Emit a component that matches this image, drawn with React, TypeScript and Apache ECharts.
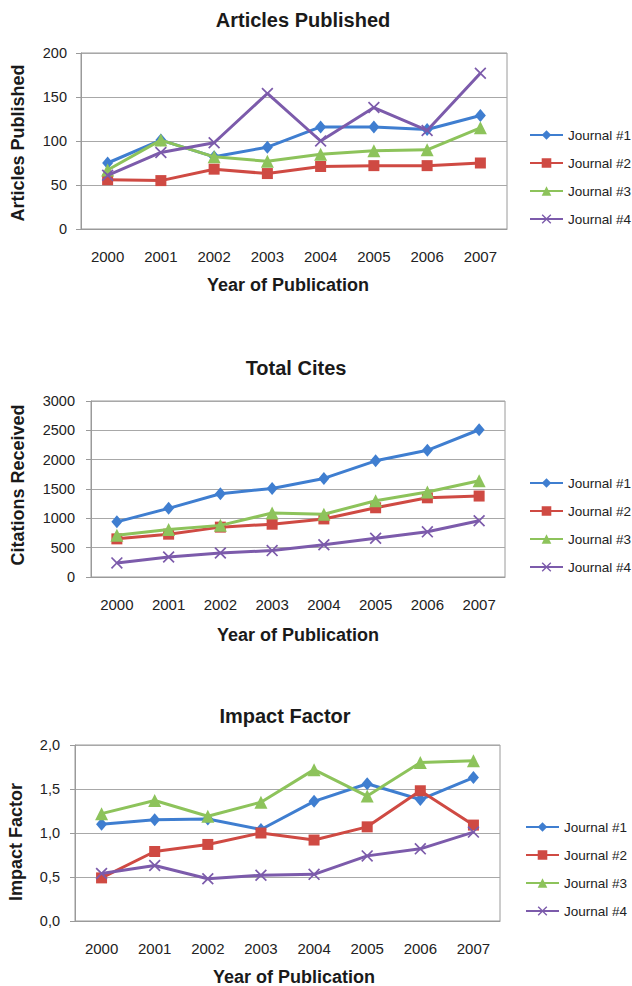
import React, { useEffect, useRef } from "react";
import * as echarts from "echarts";

const years = ["2000", "2001", "2002", "2003", "2004", "2005", "2006", "2007"];
const journals = ["Journal #1", "Journal #2", "Journal #3", "Journal #4"];

const articlesJ1 = [75, 101, 82, 93, 116, 116, 113, 129];
const articlesJ2 = [56, 55, 68, 63, 71, 72, 72, 75];
const articlesJ3 = [67, 101, 82, 77, 85, 89, 90, 115];
const articlesJ4 = [61, 87, 98, 154, 100, 138, 112, 177];

const citesJ1 = [940, 1170, 1420, 1510, 1680, 1980, 2160, 2510];
const citesJ2 = [650, 730, 850, 900, 990, 1180, 1350, 1380];
const citesJ3 = [710, 810, 880, 1090, 1070, 1300, 1450, 1640];
const citesJ4 = [240, 340, 410, 450, 550, 660, 770, 960];

const impactJ1 = [1.1, 1.15, 1.16, 1.04, 1.36, 1.56, 1.38, 1.63];
const impactJ2 = [0.49, 0.79, 0.87, 1.0, 0.92, 1.07, 1.48, 1.09];
const impactJ3 = [1.22, 1.37, 1.19, 1.35, 1.72, 1.42, 1.8, 1.82];
const impactJ4 = [0.54, 0.63, 0.48, 0.52, 0.53, 0.74, 0.82, 1.01];

const chartTitles = ["Articles Published", "Total Cites", "Impact Factor"];
const yNames = ["Articles Published", "Citations Received", "Impact Factor"];
const xName = "Year of Publication";

const FONT = "'Liberation Sans', Arial, Helvetica, sans-serif";
const colors = ["#3f7ed0", "#cf4a43", "#8dc35b", "#7c5bab"];
const crossPath =
  "path://M1,0 L5,4 L9,0 L10,1 L6,5 L10,9 L9,10 L5,6 L1,10 L0,9 L4,5 L0,1 Z";
const symbols = ["diamond", "rect", "triangle", crossPath];
const symbolSizes: any[] = [[11, 13], 11, 13, 12];

const layouts = [
  { left: 81, top: 53, width: 426, height: 176, labelMargin: 14, title: [303, 20], yName: [18, 143], xName: [288, 285], legendLeft: 529, legendTop: 128 },
  { left: 91, top: 401, width: 414, height: 176, labelMargin: 16, title: [296, 368], yName: [18, 485], xName: [298, 635], legendLeft: 529, legendTop: 476 },
  { left: 75, top: 745, width: 425, height: 176, labelMargin: 15, title: [285, 716], yName: [16, 842], xName: [294, 977], legendLeft: 525, legendTop: 820 },
];

const axisScales = [
  { min: 0, max: 200, interval: 50, fmt: (v: number) => String(v) },
  { min: 0, max: 3000, interval: 500, fmt: (v: number) => String(v) },
  { min: 0, max: 2, interval: 0.5, fmt: (v: number) => v.toFixed(1).replace(".", ",") },
];

const datasets = [
  [articlesJ1, articlesJ2, articlesJ3, articlesJ4],
  [citesJ1, citesJ2, citesJ3, citesJ4],
  [impactJ1, impactJ2, impactJ3, impactJ4],
];

export default function App() {
  const ref = useRef<HTMLDivElement>(null);
  useEffect(() => {
    if (!ref.current) return;
    const chart = echarts.init(ref.current, undefined, { renderer: "svg" });

    const grids = layouts.map((l) => ({
      left: l.left,
      top: l.top,
      width: l.width,
      height: l.height,
      show: true,
      borderColor: "#9a9a9a",
      borderWidth: 1,
      backgroundColor: "transparent",
      containLabel: false,
    }));

    const xAxes = layouts.map((_, i) => ({
      type: "category",
      gridIndex: i,
      data: years,
      boundaryGap: true,
      axisLine: { show: true, lineStyle: { color: "#9a9a9a", width: 1 } },
      axisTick: { show: false },
      axisLabel: { fontSize: 15, color: "#222", fontFamily: FONT, margin: 20 },
      splitLine: { show: false },
    }));

    const yAxes = layouts.map((l, i) => ({
      type: "value",
      gridIndex: i,
      min: axisScales[i].min,
      max: axisScales[i].max,
      interval: axisScales[i].interval,
      axisLine: { show: true, lineStyle: { color: "#9a9a9a", width: 1 } },
      axisTick: { show: true, length: 5, inside: false, lineStyle: { color: "#9a9a9a" } },
      axisLabel: {
        fontSize: 14.5,
        color: "#222",
        fontFamily: FONT,
        margin: l.labelMargin,
        formatter: axisScales[i].fmt,
      },
      splitLine: { show: true, lineStyle: { color: "#a8a8a8", width: 1 } },
    }));

    const series: any[] = [];
    datasets.forEach((ds, gi) => {
      ds.forEach((vals, si) => {
        series.push({
          type: "line",
          name: journals[si],
          xAxisIndex: gi,
          yAxisIndex: gi,
          data: vals,
          symbol: symbols[si],
          symbolSize: symbolSizes[si],
          showAllSymbol: true,
          lineStyle: { color: colors[si], width: 3 },
          itemStyle: { color: colors[si] },
          z: 2 + si,
        });
      });
    });

    const legends = layouts.map((l) => ({
      orient: "vertical",
      left: l.legendLeft,
      top: l.legendTop,
      padding: 0,
      itemWidth: 33,
      itemHeight: 12,
      itemGap: 14,
      selectedMode: false,
      textStyle: { fontSize: 13.5, color: "#222", fontFamily: FONT },
      data: journals,
    }));

    const graphics: any[] = [];
    layouts.forEach((l, i) => {
      graphics.push({
        type: "text",
        x: l.title[0],
        y: l.title[1],
        style: {
          text: chartTitles[i],
          fontSize: 20,
          fontWeight: "bold",
          fontFamily: FONT,
          fill: "#1a1a1a",
          align: "center",
          verticalAlign: "middle",
        },
      });
      graphics.push({
        type: "text",
        x: l.yName[0],
        y: l.yName[1],
        rotation: Math.PI / 2,
        style: {
          text: yNames[i],
          fontSize: 18,
          fontWeight: "bold",
          fontFamily: FONT,
          fill: "#1a1a1a",
          align: "center",
          verticalAlign: "middle",
        },
      });
      graphics.push({
        type: "text",
        x: l.xName[0],
        y: l.xName[1],
        style: {
          text: xName,
          fontSize: 18,
          fontWeight: "bold",
          fontFamily: FONT,
          fill: "#1a1a1a",
          align: "center",
          verticalAlign: "middle",
        },
      });
    });

    chart.setOption({
      animation: false,
      backgroundColor: "#ffffff",
      grid: grids,
      xAxis: xAxes,
      yAxis: yAxes,
      legend: legends,
      series,
      graphic: graphics,
    });

    return () => chart.dispose();
  }, []);

  return (
    <div
      ref={ref}
      style={{ position: "fixed", left: 0, top: 0, width: 632, height: 986, background: "#fff" }}
    />
  );
}
